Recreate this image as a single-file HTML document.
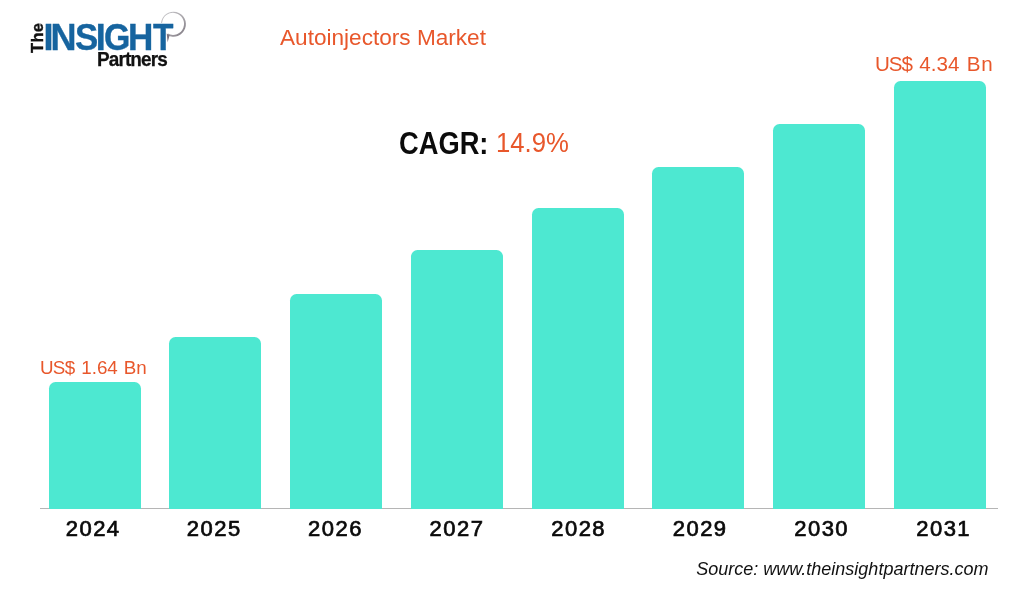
<!DOCTYPE html>
<html lang="en">
<head>
<meta charset="utf-8">
<title>Autoinjectors Market</title>
<style>
  html, body { margin: 0; padding: 0; background: #ffffff; }
  body { width: 1027px; height: 591px; position: relative; overflow: hidden;
         font-family: "Liberation Sans", sans-serif; }
  .abs { position: absolute; white-space: nowrap; line-height: 1; }
  .bar { position: absolute; z-index: 2; width: 92px; background: #4de8d1; border-radius: 6.5px 6.5px 0 0; }
  .axis { position: absolute; left: 40px; top: 508px; width: 958px; height: 1px; background: #b5b5b5; }
  .orange { color: #e8572b; }
  .year { position: absolute; top: 517px; width: 100px; margin-left: -50px; text-align: center;
          font-family: "Liberation Sans", sans-serif; font-size: 22px; line-height: 24px; letter-spacing: 1.5px; text-indent: 1.5px;
          color: #0a0a0a; -webkit-text-stroke: 0.7px #0a0a0a; }
  .title { left: 279.5px; top: 26.5px; font-size: 22px; transform-origin: 0 0; transform: scaleX(1.027); }
  .val1 { left: 40.3px; top: 359.1px; font-size: 18.7px; transform-origin: 0 0; transform: scaleX(1.006); }
  .val2 { left: 874.9px; top: 54.2px; font-size: 20.4px; transform-origin: 0 0; transform: scaleX(1.01); }
  .cagr { left: 399.3px; top: 128.2px; font-size: 30.5px; font-weight: 700; color: #0b0b0b;
          transform-origin: 0 0; transform: scaleX(0.895); }
  .cagrv { left: 495.6px; top: 129.3px; font-size: 27.3px; transform-origin: 0 0; transform: scaleX(0.941); }
  .source { right: 38.3px; top: 558.9px; font-size: 19.2px; font-style: italic; color: #111; transform-origin: 100% 0; transform: scaleX(0.938); }
  /* logo */
  .l-the { left: 29.2px; top: 53.1px; font-size: 16.5px; font-weight: 700; color: #111;
           transform-origin: 0 0; transform: rotate(-90deg); letter-spacing: 0.3px; -webkit-text-stroke: 0.4px #111; }
  .l-insight { left: 43.3px; top: 19.5px; font-size: 36px; font-weight: 700; color: #16649f;
               -webkit-text-stroke: 0.35px #16649f; width: 135px; height: 36px; }
  .l-insight span { display: inline-block; transform-origin: 0 0; }
  .l-partners { left: 97px; top: 48.6px; font-size: 20.4px; font-weight: 700; color: #111; letter-spacing: -0.95px; -webkit-text-stroke: 0.25px #111; transform-origin: 0 0; transform: scaleX(0.93); }
  .l-ring { position: absolute; left: 0; top: 0; }
</style>
</head>
<body>
  <!-- logo -->
  <svg class="l-ring" width="220" height="80" viewBox="0 0 220 80">
    <defs>
      <linearGradient id="rg" x1="0" y1="0" x2="1" y2="1">
        <stop offset="0" stop-color="#c9c9cc"/>
        <stop offset="0.55" stop-color="#a9a6ab"/>
        <stop offset="1" stop-color="#7d7780"/>
      </linearGradient>
    </defs>
    <path d="M160.97 22.89 A12.5 12.5 0 1 1 167.53 35.24 L167.89 33.56 A11.0 11.0 0 1 0 162.11 22.70 Z" fill="url(#rg)"/>
    <path d="M166.7 33.4 L169.6 35.6 L167.6 42.2 Z" fill="#7f7480"/>
  </svg>
  <div class="abs l-the">The</div>
  <div class="abs l-insight"><span style="margin-left:0.2px">I</span><span style="margin-left:-2.9px">N</span><span style="margin-left:-1.8px;transform:scaleX(0.968)">S</span><span style="margin-left:-3.21px">I</span><span style="margin-left:-2px;transform:scaleX(0.94)">G</span><span style="margin-left:-3.7px;transform:scaleX(0.975)">H</span><span style="margin-left:-1.1px;transform:scaleX(0.93)">T</span></div>
  <div class="abs l-partners">Partners</div>

  <div class="abs title orange">Autoinjectors Market</div>

  <div class="abs cagr">CAGR:</div>
  <div class="abs cagrv orange">14.9%</div>

  <div class="abs val1 orange"><span style="letter-spacing:-0.7px">US$</span><span style="margin-left:1.5px"> 1.64</span><span style="margin-left:0.6px"> Bn</span></div>
  <div class="abs val2 orange"><span style="letter-spacing:-1px">US$</span><span style="margin-left:1.5px"> 4.34</span><span style="margin-left:0.8px;letter-spacing:0.8px"> Bn</span></div>

  <!-- bars -->
  <div class="bar" style="left:49px; top:382px; height:127px;"></div>
  <div class="bar" style="left:169px; top:337px; height:172px;"></div>
  <div class="bar" style="left:290px; top:294px; height:215px;"></div>
  <div class="bar" style="left:411px; top:250px; height:259px;"></div>
  <div class="bar" style="left:532px; top:208px; height:301px;"></div>
  <div class="bar" style="left:652px; top:167px; height:342px;"></div>
  <div class="bar" style="left:773px; top:124px; height:385px;"></div>
  <div class="bar" style="left:894px; top:81px; height:428px;"></div>
  <div class="axis"></div>

  <div class="year" style="left:92.4px;">2024</div>
  <div class="year" style="left:213.5px;">2025</div>
  <div class="year" style="left:334.8px;">2026</div>
  <div class="year" style="left:456.2px;">2027</div>
  <div class="year" style="left:577.9px;">2028</div>
  <div class="year" style="left:699.4px;">2029</div>
  <div class="year" style="left:820.9px;">2030</div>
  <div class="year" style="left:942.9px;">2031</div>

  <div class="abs source">Source: www.theinsightpartners.com</div>
</body>
</html>
